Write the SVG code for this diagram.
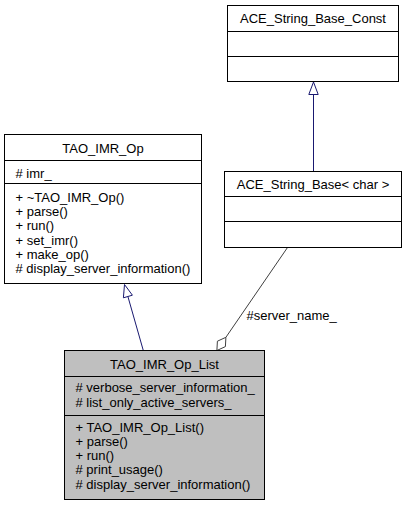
<svg xmlns="http://www.w3.org/2000/svg" width="407" height="507" viewBox="0 0 407 507">
<style>
text{font-family:"Liberation Sans",Arial,Helvetica,sans-serif;font-size:13px;fill:#000}
.t{text-anchor:middle}
.box{fill:#fff;stroke:#000;stroke-width:1}
.cur{fill:#bfbfbf;stroke:#000;stroke-width:1}
.sep{stroke:#000;stroke-width:1;fill:none}
.inh{stroke:#191970;stroke-width:1;fill:none}
.inhh{stroke:#191970;stroke-width:1;fill:#fff}
.agg{stroke:#404040;stroke-width:1;fill:none}
.aggh{stroke:#404040;stroke-width:1;fill:#fff}
</style>
<rect width="407" height="507" fill="#fff"/>
<g id="edges">
<path class="inh" d="M313.5,171.5 L313.5,94.5"/>
<polygon class="inhh" points="313.5,82 308.8,94.5 318.2,94.5"/>
<path class="inh" d="M143.3,350.5 L127.9,296.5"/>
<polygon class="inhh" points="124.5,284.5 132.4,295.2 123.4,297.8"/>
<path class="agg" d="M287.5,247.5 L225.9,337.3"/>
<polygon class="aggh" points="216.9,350.5 217.4,341.2 225.9,337.3 225.4,346.6"/>
<text x="246.5" y="319.5">#server_name_</text>
</g>
<g id="ACE_String_Base_Const">
<rect class="box" x="227.5" y="5.5" width="171" height="76"/>
<path class="sep" d="M227.5,31.5 H398.5 M227.5,56.5 H398.5"/>
<text class="t" x="313" y="23">ACE_String_Base_Const</text>
</g>
<g id="ACE_String_Base_char">
<rect class="box" x="224.5" y="171.5" width="177" height="76"/>
<path class="sep" d="M224.5,196.5 H401.5 M224.5,221.5 H401.5"/>
<text class="t" x="313" y="189">ACE_String_Base&lt; char &gt;</text>
</g>
<g id="TAO_IMR_Op">
<rect class="box" x="4.5" y="134.5" width="197" height="149"/>
<path class="sep" d="M4.5,160.5 H201.5 M4.5,183.5 H201.5"/>
<text class="t" x="103" y="152.5">TAO_IMR_Op</text>
<text x="15.5" y="177.5"># imr_</text>
<text x="15.5" y="201.75">+ ~TAO_IMR_Op()</text>
<text x="15.5" y="216">+ parse()</text>
<text x="15.5" y="230.25">+ run()</text>
<text x="15.5" y="244.5">+ set_imr()</text>
<text x="15.5" y="258.75">+ make_op()</text>
<text x="15.5" y="273"># display_server_information()</text>
</g>
<g id="TAO_IMR_Op_List">
<rect class="cur" x="64.5" y="350.5" width="200" height="149"/>
<path class="sep" d="M64.5,376.5 H264.5 M64.5,415.5 H264.5"/>
<text class="t" x="164.5" y="368.5">TAO_IMR_Op_List</text>
<text x="75.5" y="392"># verbose_server_information_</text>
<text x="75.5" y="406.5"># list_only_active_servers_</text>
<text x="75.5" y="431.5">+ TAO_IMR_Op_List()</text>
<text x="75.5" y="445.75">+ parse()</text>
<text x="75.5" y="460">+ run()</text>
<text x="75.5" y="474.25"># print_usage()</text>
<text x="75.5" y="488.5"># display_server_information()</text>
</g>
</svg>
